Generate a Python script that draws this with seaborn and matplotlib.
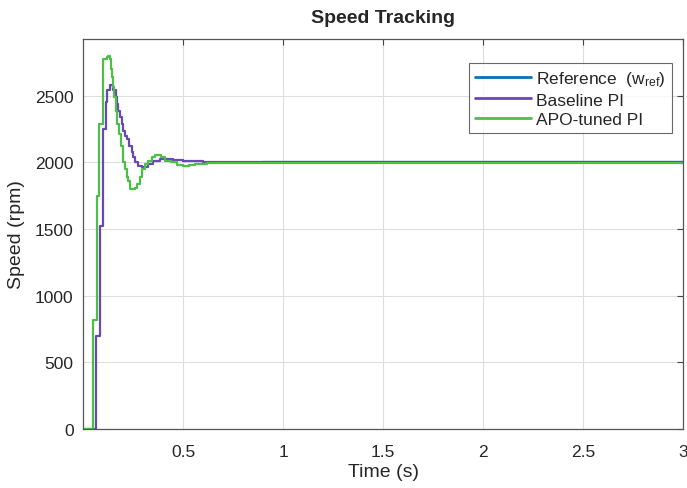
import numpy as np
import pandas as pd
import matplotlib
matplotlib.use("Agg")
import matplotlib.pyplot as plt
import seaborn as sns

# step responses (sample-and-hold, plotted as stairs)
t_base = [0.0, 0.0625, 0.0825, 0.100, 0.111, 0.120, 0.1325, 0.150, 0.161, 0.168, 0.175,
          0.1825, 0.191, 0.199, 0.2075, 0.219, 0.229, 0.241, 0.249, 0.2575, 0.274, 0.291,
          0.324, 0.349, 0.3825, 0.450, 0.500, 0.600, 0.800, 3.0]
w_base = [0, 694, 1525, 2250, 2450, 2540, 2580, 2540, 2490, 2437, 2387,
          2340, 2287, 2237, 2200, 2175, 2125, 2075, 2037, 2000, 1975, 1962,
          1990, 2012, 2025, 2018, 2010, 2005, 2003, 2003]

t_apo = [0.0, 0.049, 0.066, 0.080, 0.100, 0.116, 0.124, 0.1325, 0.1375, 0.144, 0.149,
         0.154, 0.161, 0.1675, 0.178, 0.186, 0.199, 0.2075, 0.216, 0.224, 0.2325, 0.2575,
         0.266, 0.2825, 0.291, 0.3075, 0.324, 0.341, 0.3575, 0.390, 0.410, 0.440, 0.466,
         0.500, 0.530, 0.560, 0.620, 0.720, 3.0]
w_apo = [0, 820, 1750, 2285, 2775, 2787, 2800, 2775, 2700, 2637, 2562,
         2487, 2387, 2287, 2210, 2125, 2000, 1950, 1890, 1862, 1800, 1810,
         1837, 1888, 1950, 1987, 2012, 2037, 2055, 2037, 2012, 2000, 1978,
         1975, 1982, 1988, 1993, 1997, 1997]

# reference speed (only visible where the responses have settled on it)
t_ref = [0.9, 3.0]
w_ref = [2000, 2000]

labels = ["Reference  ($\\mathrm{w_{ref}}$)", "Baseline PI", "APO-tuned PI"]
colors = ["#0072BD", "#6A48B4", "#4DBE47"]

df = pd.concat([
    pd.DataFrame({"t": t_ref, "w": w_ref, "series": labels[0]}),
    pd.DataFrame({"t": t_base, "w": w_base, "series": labels[1]}),
    pd.DataFrame({"t": t_apo, "w": w_apo, "series": labels[2]}),
])

sns.set_theme(style="whitegrid")
plt.rcParams["font.family"] = ["Liberation Sans", "DejaVu Sans"]
plt.rcParams["mathtext.fontset"] = "custom"
plt.rcParams["mathtext.rm"] = "Liberation Sans"

fig = plt.figure(figsize=(6.87, 4.89), dpi=100)
ax = fig.add_axes([0.1215, 0.1207, 0.8727, 0.7975])

sns.lineplot(data=df, x="t", y="w", hue="series", hue_order=labels,
             palette=colors, drawstyle="steps-post", linewidth=1.6,
             estimator=None, sort=False, ax=ax)

ax.set_xlim(0, 3)
ax.set_ylim(0, 2925)
ax.set_xticks([0.5, 1, 1.5, 2, 2.5, 3])
ax.set_xticklabels(["0.5", "1", "1.5", "2", "2.5", "3"])
ax.set_yticks([0, 500, 1000, 1500, 2000, 2500])

ax.set_facecolor("white")
ax.grid(True, color="#DEDEDE", linewidth=0.8)
for s in ax.spines.values():
    s.set_visible(True)
    s.set_color("#555555")
    s.set_linewidth(0.9)
ax.tick_params(direction="in", length=4, width=0.8, color="#444444",
               top=True, right=True, labelsize=12.5, labelcolor="#262626")
ax.tick_params(axis="x", pad=11)
ax.tick_params(axis="y", pad=7)

ax.set_xlabel("Time (s)", fontsize=14, color="#262626", labelpad=3)
ax.set_ylabel("Speed (rpm)", fontsize=14, color="#262626", labelpad=7)
ax.set_title("Speed Tracking", fontsize=14, fontweight="bold", color="#262626", pad=12)

leg = ax.legend(loc="upper right", bbox_to_anchor=(0.9816, 0.9385), borderaxespad=0,
                fontsize=12.5, frameon=True, fancybox=False, handlelength=3.2,
                handletextpad=0.3, labelspacing=0.25, borderpad=0.35)
leg.get_frame().set_edgecolor("#444444")
leg.get_frame().set_linewidth(0.8)
for line in leg.get_lines():
    line.set_linewidth(2.0)

fig.savefig("out.png", dpi=100)
